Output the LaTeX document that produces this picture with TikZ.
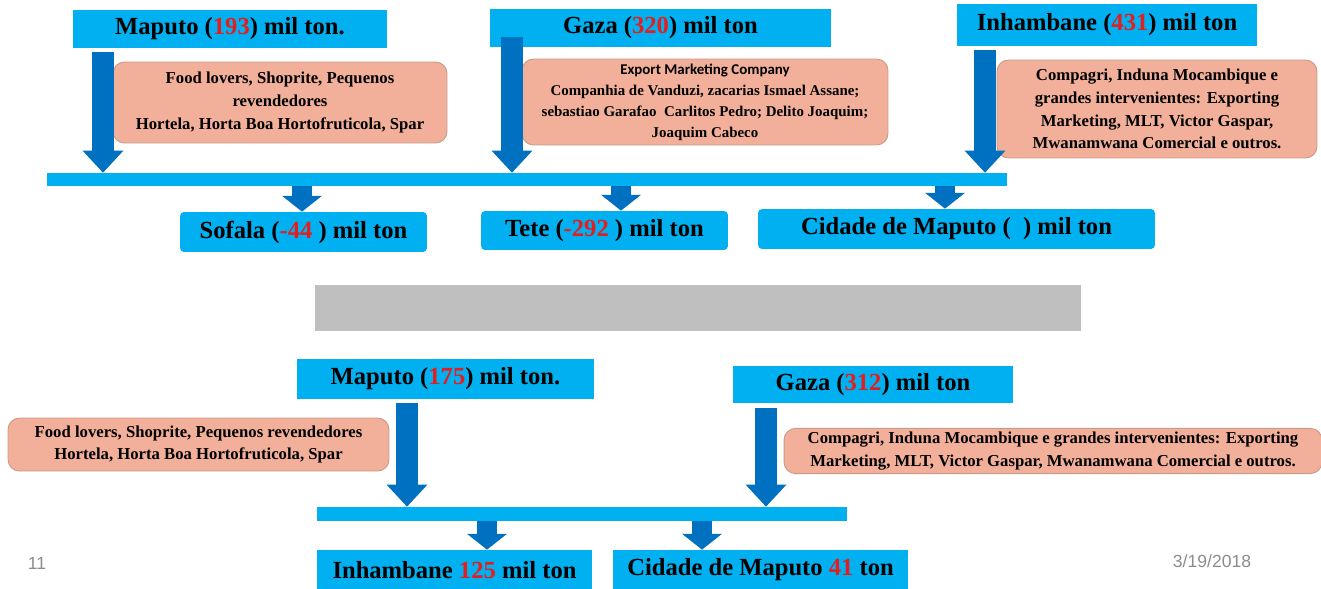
\documentclass[tikz,border=0pt]{standalone}
\usepackage{fontspec}
\setmainfont{Liberation Serif}
\newfontfamily\calibrifont{Carlito}
\newfontfamily\footfont{Liberation Sans}
\usepackage{xcolor}
\usepackage{tikz}
\usetikzlibrary{arrows.meta}

\definecolor{boxblue}{HTML}{00B0F0}
\definecolor{arrowblue}{HTML}{0070C0}
\definecolor{salmon}{HTML}{F2B09A}
\definecolor{salmonedge}{HTML}{C99A88}
\definecolor{bannergray}{HTML}{BFBFBF}
\definecolor{numred}{HTML}{E41E1E}
\definecolor{footgray}{HTML}{8C8C8C}
\newcommand{\rv}[1]{\textcolor{numred}{#1}}

\begin{document}
\begin{tikzpicture}[x=0.02cm, y=-0.02cm,
    hdr/.style={rectangle, fill=boxblue, inner sep=2pt, font=\fontsize{14}{16}\selectfont\bfseries},
    dest/.style={hdr, rounded corners=2.3pt},
    info/.style={rectangle, rounded corners=6.5pt, fill=salmon, draw=salmonedge, line width=0.5pt, align=center, inner sep=2pt, font=\fontsize{9.5}{13}\selectfont\bfseries},
    bus/.style={rectangle, fill=boxblue, inner sep=0pt},
    bigarr/.style={arrowblue, line width=12pt, -{Triangle[length=12.5pt, width=23.2pt, line width=0pt]}},
    smallarr/.style={arrowblue, line width=11.3pt, -{Triangle[length=9pt, width=22.7pt, line width=0pt]}},
    foot/.style={text=footgray, font=\footfont\fontsize{10}{12}\selectfont}
]
    \useasboundingbox (0,0) rectangle (1321,588);
    \clip (0,0) rectangle (1321,588);

    \node[hdr, minimum width=6.28cm, minimum height=0.76cm] (mapA) at (230,29) {Maputo (\rv{193}) mil ton.};
    \node[hdr, minimum width=6.82cm, minimum height=0.76cm] (gazaA) at (660.5,28) {Gaza (\rv{320}) mil ton};
    \node[hdr, minimum width=6.0cm, minimum height=0.84cm] (inhA) at (1107,25) {Inhambane (\rv{431}) mil ton};

    \node[info, minimum width=6.68cm, minimum height=1.62cm] (infoA) at (280,102.5)
        {Food lovers, Shoprite, Pequenos\\ revendedores\\ Hortela, Horta Boa Hortofruticola, Spar};
    \node[info, minimum width=7.32cm, minimum height=1.72cm, font=\fontsize{8.5}{12}\selectfont\bfseries] (infoB) at (705,102)
        {{\calibrifont Export Marketing Company}\\ Companhia de Vanduzi, zacarias Ismael Assane;\\ sebastiao Garafao\ \ Carlitos Pedro; Delito Joaquim;\\ Joaquim Cabeco};
    \node[info, minimum width=6.4cm, minimum height=1.96cm] (infoC) at (1157,109)
        {Compagri, Induna Mocambique e\\ grandes intervenientes: Exporting\\ Marketing, MLT, Victor Gaspar,\\ Mwanamwana Comercial e outros.};

    \node[bus, minimum width=19.2cm, minimum height=0.26cm] (busA) at (527,179.5) {};

    \node[dest, minimum width=4.94cm, minimum height=0.8cm] (sofala) at (303.5,232) {Sofala (\rv{-44} ) mil ton};
    \node[dest, minimum width=4.94cm, minimum height=0.78cm] (tete) at (604.5,230.5) {Tete (\rv{-292} ) mil ton};
    \node[dest, minimum width=7.94cm, minimum height=0.8cm] (cidA) at (956.5,229) {Cidade de Maputo (\ \ ) mil ton};

    \draw[bigarr, shorten <=2.3pt] (mapA.south -| 103,0) -- (busA.north -| 103,0);
    \draw[bigarr, shorten <=-5.7pt] (gazaA.south -| 512,0) -- (busA.north -| 512,0);
    \draw[bigarr, shorten <=2.3pt] (inhA.south -| 985,0) -- (busA.north -| 985,0);
    \draw[smallarr] (busA.south -| 302,0) -- (sofala.north -| 302,0);
    \draw[smallarr] (busA.south -| 621,0) -- (tete.north -| 621,0);
    \draw[smallarr] (busA.south -| 945,0) -- (cidA.north -| 945,0);

    \node[fill=bannergray, minimum width=15.32cm, minimum height=0.92cm] (banner) at (698,308) {};

    \node[hdr, minimum width=5.94cm, minimum height=0.8cm] (mapB) at (445.5,379) {Maputo (\rv{175}) mil ton.};
    \node[hdr, minimum width=5.6cm, minimum height=0.74cm] (gazaB) at (873,384.5) {Gaza (\rv{312}) mil ton};

    \node[info, minimum width=7.62cm, minimum height=1.06cm] (infoD) at (198.5,444.5)
        {Food lovers, Shoprite, Pequenos revendedores\\ Hortela, Horta Boa Hortofruticola, Spar};
    \node[info, minimum width=10.76cm, minimum height=0.84cm] (infoE) at (1053,451)
        {Compagri, Induna Mocambique e grandes intervenientes: Exporting\\ Marketing, MLT, Victor Gaspar, Mwanamwana Comercial e outros.};

    \node[bus, minimum width=10.6cm, minimum height=0.28cm] (busB) at (582,514) {};

    \node[hdr, minimum width=5.5cm, minimum height=0.8cm] (inhB) at (454.5,570) {Inhambane \rv{125} mil ton};
    \node[hdr, minimum width=5.9cm, minimum height=0.8cm] (cidB) at (760.5,570) {Cidade de Maputo \rv{41} ton};

    \draw[bigarr, shorten <=2.3pt] (mapB.south -| 407,0) -- (busB.north -| 407,0);
    \draw[bigarr, shorten <=2.8pt] (gazaB.south -| 766,0) -- (busB.north -| 766,0);
    \draw[smallarr] (busB.south -| 487,0) -- (inhB.north -| 487,0);
    \draw[smallarr] (busB.south -| 702,0) -- (cidB.north -| 702,0);

    \node[foot] (pnum) at (37,563) {11};
    \node[foot] (date) at (1212,561) {3/19/2018};
\end{tikzpicture}
\end{document}
